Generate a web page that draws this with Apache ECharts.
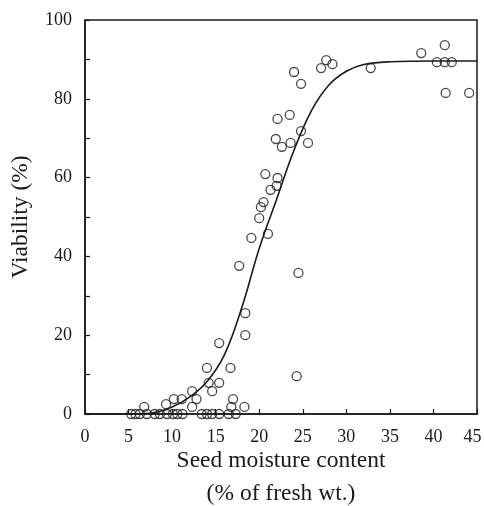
<!DOCTYPE html>
<html>
<head>
<meta charset="utf-8">
<script src="https://cdn.jsdelivr.net/npm/echarts@6/dist/echarts.min.js"></script>
<style>
  html, body { margin: 0; padding: 0; background: #fff; }
  #chart { width: 484px; height: 506px; }
</style>
</head>
<body>
<div id="chart"></div>
<script>
var chart = echarts.init(document.getElementById("chart"));

// observed points: moisture (%) and viability (%)
var pointX = [5.3, 5.8, 6.3, 7.1, 8.0, 8.6, 9.4, 10.1, 10.6, 11.2, 13.4, 14.0, 14.6, 15.4, 16.5, 17.3,
  6.8, 9.3, 10.2, 11.1, 12.3, 12.8, 12.3, 14.0, 14.2, 14.6, 15.4, 15.4, 16.7, 17.0, 16.8, 18.3,
  18.4, 18.4, 17.7, 19.1, 21.0, 20.0, 20.2, 20.5, 21.3, 22.0, 22.1, 20.7, 21.9, 22.6, 23.6,
  24.8, 25.6, 22.1, 23.5, 24.0, 24.8, 27.1, 27.7, 28.4, 24.5, 24.3, 32.8, 38.6, 41.3,
  40.4, 41.3, 42.1, 41.4, 44.1];
var pointY = [0, 0, 0, 0, 0, 0, 0, 0, 0, 0, 0, 0, 0, 0, 0, 0,
  1.8, 2.5, 3.8, 3.8, 5.8, 3.8, 1.8, 11.7, 7.9, 5.8, 7.9, 18, 11.7, 3.8, 1.8, 1.8,
  25.6, 20, 37.6, 44.7, 45.7, 49.7, 52.5, 53.8, 56.9, 57.9, 59.9, 60.9, 69.8, 67.8, 68.8,
  71.8, 68.8, 74.9, 75.9, 86.8, 83.8, 87.8, 89.8, 88.8, 35.8, 9.6, 87.8, 91.6, 93.6,
  89.3, 89.3, 89.3, 81.5, 81.5];

// fitted curve
var curveX = [0, 5, 8, 10, 12, 14, 16, 18, 20, 22, 24, 26, 28, 30, 32, 35, 40, 45];
var curveY = [0, 0, 0.4, 1.8, 4.3, 8.2, 15, 27, 42, 54.5, 67, 77, 83.5, 87, 88.7, 89.4, 89.6, 89.6];

var xTicks = [0, 5, 10, 15, 20, 25, 30, 35, 40, 45];

var points = pointX.map(function (x, i) { return [x, pointY[i]]; });
var curve = curveX.map(function (x, i) { return [x, curveY[i]]; });

var ink = "#1a1a1a";
var font = "Liberation Serif";

chart.setOption({
  animation: false,
  backgroundColor: "#fff",
  grid: {
    left: 85,
    right: 7,
    top: 20,
    bottom: 92,
    outerBoundsMode: "none",
    containLabel: false,
    show: true,
    borderColor: ink,
    borderWidth: 1.5,
  },
  xAxis: {
    type: "value",
    min: 0,
    max: 45,
    interval: 5,
    name: "Seed moisture content\n(% of fresh wt.)",
    nameLocation: "middle",
    nameGap: 30,
    nameMoveOverlap: false,
    nameTextStyle: { fontFamily: font, fontSize: 23.5, color: ink, lineHeight: 33, verticalAlign: "top" },
    axisLine: { lineStyle: { color: ink, width: 1.5 } },
    axisTick: { inside: true, length: 5, lineStyle: { color: ink, width: 1.2 } },
    axisLabel: {
      fontFamily: font, fontSize: 18, color: ink, margin: 14,
      formatter: function (v) {
        if (xTicks.indexOf(v) < 0) return "";
        return v === 45 ? "{last|45}" : String(v);
      },
      rich: {
        last: { fontFamily: font, fontSize: 18, color: ink, padding: [0, 9, 0, 0] },
      },
    },
    splitLine: { show: false },
  },
  yAxis: {
    type: "value",
    min: 0,
    max: 100,
    interval: 20,
    name: "Viability (%)",
    nameLocation: "middle",
    nameGap: 52,
    nameMoveOverlap: false,
    nameTextStyle: { fontFamily: font, fontSize: 23.5, color: ink },
    axisLine: { show: true, lineStyle: { color: ink, width: 1.5 } },
    axisTick: { show: true, inside: true, length: 5, lineStyle: { color: ink, width: 1.2 } },
    minorTick: { show: true, splitNumber: 2, length: 5, lineStyle: { color: ink, width: 1.2 } },
    axisLabel: { fontFamily: font, fontSize: 18, color: ink, margin: 13 },
    splitLine: { show: false },
  },
  series: [
    {
      type: "line",
      data: curve,
      smooth: 0.4,
      symbol: "none",
      lineStyle: { color: ink, width: 1.6 },
      z: 2,
    },
    {
      type: "scatter",
      data: points,
      symbol: "circle",
      symbolSize: 9,
      itemStyle: { color: "rgba(0,0,0,0)", borderColor: ink, borderWidth: 1.3 },
      z: 3,
    },
  ],
});
</script>
</body>
</html>
